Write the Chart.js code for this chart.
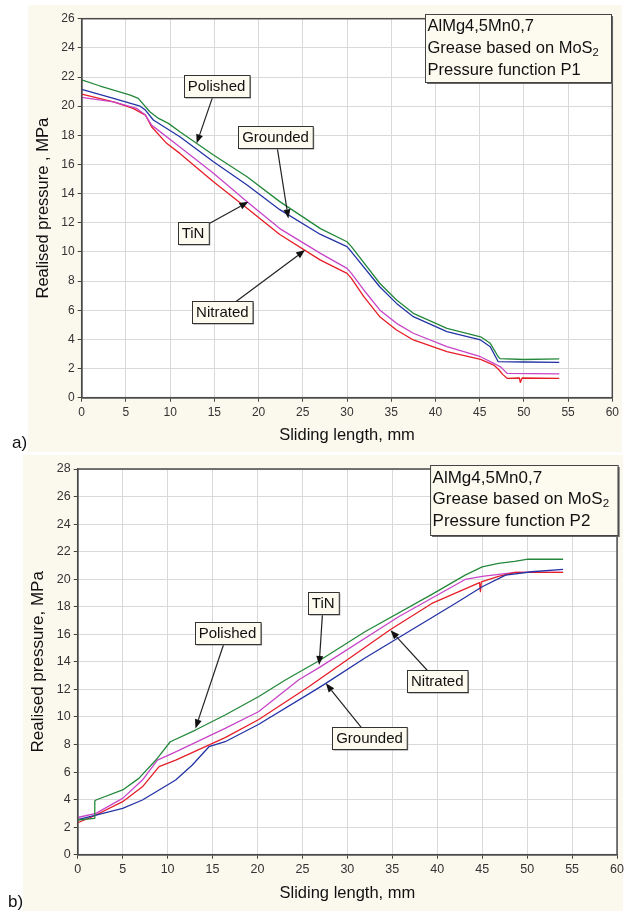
<!DOCTYPE html>
<html><head><meta charset="utf-8">
<script src="https://cdn.jsdelivr.net/npm/chart.js@4.4.1/dist/chart.umd.min.js"></script>
<style>
html,body{margin:0;padding:0;background:#fff;width:627px;height:911px;overflow:hidden;font-family:"Liberation Sans",Arial,sans-serif;}
.panel{position:absolute;background:#fbf8ee;}
canvas{position:absolute;left:0;}
.tag{position:absolute;font-size:17px;color:#111;line-height:20px;}
</style></head><body>
<div class="panel" style="left:28px;top:5px;width:594px;height:447px"></div>
<div class="panel" style="left:23px;top:455px;width:600px;height:456px"></div>
<canvas id="c1" width="627" height="453" style="top:0"></canvas>
<canvas id="c2" width="627" height="458" style="top:453px"></canvas>
<div class="tag" style="left:12px;top:433px">a)</div>
<div class="tag" style="left:8px;top:892px">b)</div>
<script>
// ---------- Data: panel a) pressure function P1 ----------
const p1PolishedX = [0, 2, 5.5, 6.4, 7.7, 8.7, 9.8, 11.1, 14.9, 18.7, 22.4, 27.0, 30.0, 30.5, 33.7, 35.6, 37.5, 41.3, 45.1, 46.2, 47.1, 47.3, 50, 54];
const p1PolishedY = [21.8, 21.4, 20.76, 20.53, 19.62, 19.16, 18.82, 18.24, 16.65, 15.16, 13.45, 11.6, 10.7, 10.36, 7.85, 6.7, 5.79, 4.76, 4.18, 3.73, 2.81, 2.68, 2.62, 2.66];
const p1GroundedX = [0, 3.6, 6.6, 7.2, 8.1, 11.1, 14.9, 18.7, 22.4, 27.0, 30.0, 30.5, 33.7, 35.6, 37.5, 41.3, 45.1, 46.2, 47.1, 50, 54];
const p1GroundedY = [21.15, 20.53, 20.0, 19.73, 19.05, 17.9, 16.19, 14.59, 12.9, 11.2, 10.36, 10.01, 7.61, 6.47, 5.56, 4.53, 3.96, 3.5, 2.47, 2.45, 2.42];
const p1TiNX = [0, 3.6, 6.2, 7.2, 7.9, 11.1, 14.9, 18.7, 22.4, 27.0, 30.0, 30.5, 31.9, 33.7, 35.6, 37.5, 41.3, 45.1, 46.6, 47.4, 48.1, 54];
const p1TiNY = [20.6, 20.3, 19.85, 19.39, 18.7, 17.2, 15.39, 13.44, 11.6, 9.9, 8.87, 8.53, 7.39, 6.02, 5.1, 4.42, 3.5, 2.81, 2.36, 2.1, 1.67, 1.63];
const p1NitratedX = [0, 3.6, 5.8, 7.2, 7.9, 9.6, 11.1, 14.9, 18.7, 22.4, 27.0, 30.0, 30.5, 31.9, 33.7, 35.6, 37.5, 41.3, 45.1, 46.6, 47.2, 47.6, 48.1, 49.5, 49.6, 49.8, 54];
const p1NitratedY = [20.83, 20.3, 19.85, 19.39, 18.59, 17.45, 16.76, 14.81, 12.99, 11.2, 9.44, 8.53, 8.19, 6.93, 5.56, 4.64, 3.96, 3.16, 2.63, 2.24, 1.9, 1.6, 1.33, 1.35, 1.05, 1.35, 1.33];

// ---------- Data: panel b) pressure function P2 ----------
const p2PolishedX = [0, 1.84, 1.9, 2.03, 5.0, 6.8, 8.7, 10.3, 13.1, 16.4, 20.1, 23.1, 26.9, 32.0, 39.4, 43.1, 45.0, 46.8, 48.6, 50.1, 54];
const p2PolishedY = [2.52, 2.64, 3.9, 3.97, 4.7, 5.54, 6.87, 8.2, 9.05, 10.14, 11.47, 12.68, 14.1, 16.2, 18.9, 20.3, 20.9, 21.15, 21.3, 21.45, 21.45];
const p2TiNX = [0, 2.03, 5.0, 7.2, 8.87, 10.9, 16.4, 20.1, 24.6, 26.9, 35.7, 43.1, 45.0, 48.7, 54];
const p2TiNY = [2.7, 3.0, 4.09, 5.42, 6.87, 7.47, 9.17, 10.38, 12.7, 13.6, 17.27, 19.98, 20.2, 20.49, 20.49];
const p2NitratedX = [0, 2.03, 5.0, 7.2, 9.05, 10.9, 16.4, 20.1, 25.7, 34.8, 39.4, 44.7, 44.8, 44.9, 46.8, 48.7, 54];
const p2NitratedY = [2.32, 2.88, 3.85, 4.93, 6.39, 6.87, 8.5, 9.8, 12.19, 16.35, 18.24, 19.75, 19.1, 19.8, 20.2, 20.49, 20.5];
const p2GroundedX = [0, 2.03, 5.0, 7.2, 9.05, 10.9, 12.75, 14.6, 16.4, 20.1, 26.4, 27.6, 32.0, 42.0, 45.0, 47.6, 50.5, 54];
const p2GroundedY = [2.55, 2.88, 3.37, 3.97, 4.7, 5.42, 6.51, 7.84, 8.2, 9.45, 11.95, 12.44, 14.3, 18.24, 19.45, 20.3, 20.54, 20.71];

// ---------- Axis ranges / tick steps ----------
const xMin = 0, xMax = 60, xStep = 5;
const p1YMax = 26, p2YMax = 28, yStep = 2;

const F = '"Liberation Sans", Arial, sans-serif';
const COL = { Polished: '#24883a', Grounded: '#2434a6', TiN: '#c845c8', Nitrated: '#e61e28' };

function pts(xs, ys) { return xs.map((x, i) => ({ x: x, y: ys[i] })); }
function ds(label, xs, ys) {
  return { label: label, data: pts(xs, ys), borderColor: COL[label], borderWidth: 1.3,
    pointRadius: 0, tension: 0, fill: false, borderJoinStyle: 'round' };
}

const decor = {
  id: 'decor',
  beforeDraw(chart) {
    const a = chart.chartArea, c = chart.ctx;
    c.save(); c.fillStyle = '#ffffff';
    c.fillRect(a.left, a.top, a.right - a.left, a.bottom - a.top); c.restore();
  },
  afterDraw(chart, args, o) {
    const a = chart.chartArea, c = chart.ctx, xs = chart.scales.x, ys = chart.scales.y;
    c.save();
    c.strokeStyle = '#4a4a4a'; c.lineWidth = 1.5;
    c.strokeRect(a.left, a.top, a.right - a.left, a.bottom - a.top);
    c.font = o.calloutFont + 'px ' + F;
    for (const k of o.callouts) {
      const bx = xs.getPixelForValue(k.x), by = ys.getPixelForValue(k.y);
      const tx = xs.getPixelForValue(k.tipX), ty = ys.getPixelForValue(k.tipY);
      const ang = Math.atan2(ty - by, tx - bx), ca = Math.cos(ang), sa = Math.sin(ang);
      const ah = 9, aw = 3.5;
      c.strokeStyle = '#222'; c.fillStyle = '#111'; c.lineWidth = 1.2;
      c.beginPath(); c.moveTo(bx, by); c.lineTo(tx - ca * ah, ty - sa * ah); c.stroke();
      c.beginPath(); c.moveTo(tx, ty);
      c.lineTo(tx - ah * ca + aw * sa, ty - ah * sa - aw * ca);
      c.lineTo(tx - ah * ca - aw * sa, ty - ah * sa + aw * ca);
      c.closePath(); c.fill();
      const w = c.measureText(k.text).width + 8, h = 22;
      const x0 = Math.round(bx - w / 2) + 0.5, y0 = Math.round(by - h / 2) + 0.5;
      c.fillStyle = '#8a8a8a'; c.fillRect(x0 + 1, y0 + 1, w, h);
      c.fillStyle = '#fdfbef'; c.fillRect(x0, y0, w, h);
      c.strokeStyle = '#333'; c.lineWidth = 1; c.strokeRect(x0, y0, w, h);
      c.fillStyle = '#111'; c.textAlign = 'center'; c.textBaseline = 'middle';
      c.fillText(k.text, bx, by + 1);
    }
    const ib = o.info;
    const x0 = a.right + ib.dx - ib.width, y0 = a.top + ib.dy;
    c.fillStyle = '#666'; c.fillRect(x0 + 2, y0 + 2, ib.width, ib.height);
    c.fillStyle = '#fdfbef'; c.fillRect(x0, y0, ib.width, ib.height);
    c.strokeStyle = '#444'; c.lineWidth = 1; c.strokeRect(x0 + 0.5, y0 + 0.5, ib.width, ib.height);
    c.fillStyle = '#111'; c.textAlign = 'left'; c.textBaseline = 'middle';
    ib.lines.forEach((ln, i) => {
      let x = x0 + 2.5; const y = y0 + ib.lineY[i];
      ln.forEach(seg => {
        if (seg.sub) {
          c.font = (ib.font * 0.68) + 'px ' + F;
          c.fillText(seg.t, x, y + ib.font * 0.3);
        } else {
          c.font = ib.font + 'px ' + F;
          c.fillText(seg.t, x, y);
        }
        x += c.measureText(seg.t).width;
      });
    });
    c.restore();
  }
};

function makeChart(id, cfg) {
  new Chart(document.getElementById(id), {
    type: 'line',
    data: { datasets: cfg.datasets },
    plugins: [decor],
    options: {
      responsive: false, animation: false, devicePixelRatio: 1,
      layout: { padding: { top: cfg.padTop, right: cfg.padRight, left: 0, bottom: 0 } },
      plugins: { legend: { display: false }, tooltip: { enabled: false }, decor: cfg.decor },
      scales: {
        x: {
          type: 'linear', min: xMin, max: xMax,
          ticks: { stepSize: xStep, padding: cfg.xTickPad, color: '#333', maxRotation: 0, autoSkip: false,
            font: { family: F, size: cfg.xTickFont } },
          grid: { color: '#d9d9d9', lineWidth: 1, tickLength: 4, tickColor: '#444' },
          border: { color: '#4a4a4a', width: 1.5 },
          title: { display: true, text: 'Sliding length, mm', color: '#111',
            font: { family: F, size: 16.5 }, padding: { top: 0, bottom: 8.1 } },
          afterFit(s) { s.height = cfg.xHeight; }
        },
        y: {
          type: 'linear', min: 0, max: cfg.yMax,
          ticks: { stepSize: yStep, padding: 3, color: '#333', font: { family: F, size: cfg.yTickFont } },
          grid: { color: '#d9d9d9', lineWidth: 1, tickLength: 4, tickColor: '#444' },
          border: { color: '#4a4a4a', width: 1.5 },
          title: { display: true, text: cfg.yTitle, color: '#111',
            font: { family: F, size: cfg.yTitleFont }, padding: { top: cfg.yTitlePad, bottom: 0 } },
          afterFit(s) { s.width = cfg.yWidth; }
        }
      }
    }
  });
}

makeChart('c1', {
  datasets: [ds('Polished', p1PolishedX, p1PolishedY), ds('Grounded', p1GroundedX, p1GroundedY),
             ds('TiN', p1TiNX, p1TiNY), ds('Nitrated', p1NitratedX, p1NitratedY)],
  padTop: 18.7, padRight: 14.7, xHeight: 55.3, yWidth: 81.7, yMax: p1YMax,
  xTickPad: 4, xTickFont: 12, yTickFont: 12,
  yTitle: 'Realised pressure , MPa', yTitleFont: 16.5, yTitlePad: 33.1,
  decor: {
    calloutFont: 15,
    callouts: [
      { text: 'Polished', x: 15.25, y: 21.41, tipX: 13.0, tipY: 17.45 },
      { text: 'Grounded', x: 21.92, y: 17.88, tipX: 23.37, tipY: 12.3 },
      { text: 'TiN', x: 12.59, y: 11.33, tipX: 18.85, tipY: 13.44 },
      { text: 'Nitrated', x: 15.9, y: 5.9, tipX: 25.26, tipY: 10.13 }
    ],
    info: { dx: -1.3, dy: -4.7, width: 186, height: 68, font: 16.5, lineY: [12.7, 34.3, 56],
      lines: [[{ t: 'AlMg4,5Mn0,7' }], [{ t: 'Grease based on MoS' }, { t: '2', sub: true }], [{ t: 'Pressure function P1' }]] }
  }
});

makeChart('c2', {
  datasets: [ds('Polished', p2PolishedX, p2PolishedY), ds('Grounded', p2GroundedX, p2GroundedY),
             ds('Nitrated', p2NitratedX, p2NitratedY), ds('TiN', p2TiNX, p2TiNY)],
  padTop: 16, padRight: 8.3, xHeight: 56.3, yWidth: 77.7, yMax: p2YMax,
  xTickPad: 3, xTickFont: 12.5, yTickFont: 12.5,
  yTitle: 'Realised pressure, MPa', yTitleFont: 17, yTitlePad: 27.8,
  decor: {
    calloutFont: 15,
    callouts: [
      { text: 'Polished', x: 16.66, y: 16.09, tipX: 13.1, tipY: 9.17 },
      { text: 'TiN', x: 27.31, y: 18.3, tipX: 26.86, tipY: 13.77 },
      { text: 'Nitrated', x: 40.0, y: 12.59, tipX: 34.8, tipY: 16.3 },
      { text: 'Grounded', x: 32.46, y: 8.5, tipX: 27.6, tipY: 12.44 }
    ],
    info: { dx: 0.6, dy: -4, width: 187.6, height: 70, font: 17, lineY: [13, 34, 56],
      lines: [[{ t: 'AlMg4,5Mn0,7' }], [{ t: 'Grease based on MoS' }, { t: '2', sub: true }], [{ t: 'Pressure function P2' }]] }
  }
});
</script>
</body></html>
